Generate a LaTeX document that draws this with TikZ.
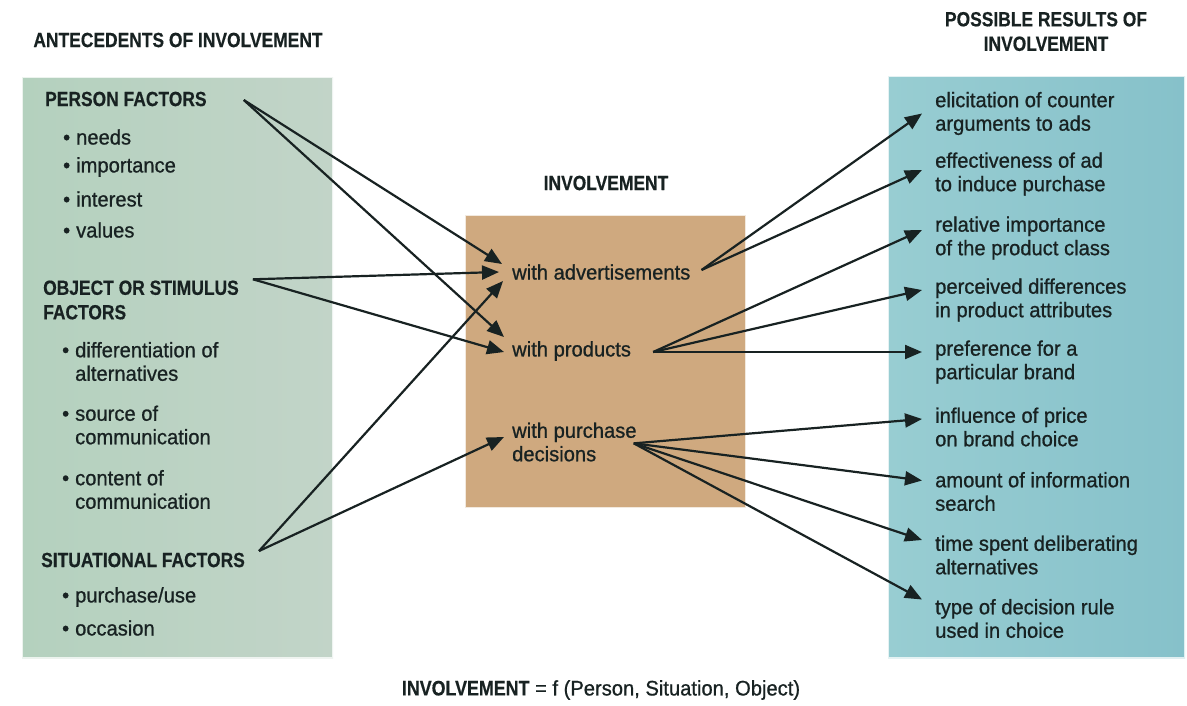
\documentclass[tikz,border=0pt]{standalone}
\usepackage{fontspec}
\usepackage{graphicx}
\setmainfont{Liberation Sans}[FakeStretch=0.96, FakeBold=0.8]
\newfontfamily\headfont{Liberation Sans}[FakeStretch=0.85, FakeBold=0.4]
\usetikzlibrary{arrows.meta,calc,backgrounds}

\definecolor{ink}{HTML}{182222}
\definecolor{sageL}{HTML}{B4D1BE}
\definecolor{sageR}{HTML}{C2D4C8}
\definecolor{tanbox}{HTML}{CFA97F}
\definecolor{tealL}{HTML}{98CDD2}
\definecolor{tealR}{HTML}{86C1CA}
\definecolor{glowG}{HTML}{B9D8C6}
\definecolor{glowT}{HTML}{B8D9D3}
\definecolor{glowB}{HTML}{B4C6C8}

\newcommand{\itm}{\makebox[0pt][r]{\textbullet\hspace{6pt}}}

\tikzset{
  body/.style={font=\fontsize{21}{23.5}\selectfont, text=ink, inner sep=0pt, align=left, anchor=west},
  head/.style={font=\headfont\bfseries\fontsize{20.5}{24.5}\selectfont, text=ink, inner sep=0pt, align=left},
  panel/.style={minimum width=#1, inner sep=0pt, draw=white, draw opacity=0.75, line width=1.4pt},
  link/.style={draw=ink, line width=2.2pt, -{Triangle[length=17pt,width=14pt]}},
}

\begin{document}
\begin{tikzpicture}[x=1pt,y=-1pt]
\useasboundingbox[fill=white] (0,0) rectangle (1187,705);

% panels
\node[panel=311pt, minimum height=581pt, left color=sageL, right color=sageR] (lbox) at (177.5,367.5) {};
\node[panel=281pt, minimum height=293pt, fill=tanbox] (cbox) at (605.5,361.5) {};
\node[panel=297pt, minimum height=582pt, left color=tealL, right color=tealR] (rbox) at (1036.5,367) {};

% soft glow around the panels
\begin{scope}[on background layer]
  \foreach \g in {1,...,10} {
    \fill[glowG, opacity=0.05] ($(lbox.south west)+(-1.6*\g,1.9*\g)$) rectangle ($(lbox.north east)+(1.6*\g,-1.6*\g)$);
    \fill[glowT, opacity=0.05] ($(cbox.south west)+(-1.6*\g,1.9*\g)$) rectangle ($(cbox.north east)+(1.6*\g,-1.6*\g)$);
    \fill[glowB, opacity=0.05] ($(rbox.south west)+(-1.6*\g,1.9*\g)$) rectangle ($(rbox.north east)+(1.6*\g,-1.6*\g)$);
  }
\end{scope}

% headings
\node[head, align=center] (antec) at (178,40) {ANTECEDENTS OF INVOLVEMENT};
\node[head, align=center] (invh) at (606,183) {INVOLVEMENT};
\node[head, align=center] (resh) at (1046,31.5) {POSSIBLE RESULTS OF\\INVOLVEMENT};

% antecedents
\node[head, anchor=west] (pf) at (45,99) {PERSON FACTORS};
\node[body] (p1) at (76,137) {\itm needs};
\node[body] (p2) at (76,167) {\itm importance};
\node[body] (p3) at (76,199) {\itm interest};
\node[body] (p4) at (76,230) {\itm values};
\node[head, anchor=west] (of) at (43,300) {OBJECT OR STIMULUS\\FACTORS};
\node[body] (o1) at (75,361.5) {\itm differentiation of\\alternatives};
\node[body] (o2) at (75,425) {\itm source of\\communication};
\node[body] (o3) at (75,489.5) {\itm content of\\communication};
\node[head, anchor=west] (sf) at (41,560) {SITUATIONAL FACTORS};
\node[body] (s1) at (75,597) {\itm purchase/use};
\node[body] (s2) at (75,628) {\itm occasion};

% forms of involvement
\node[body] (adv) at (512,272) {with advertisements};
\node[body] (prod) at (512,351) {with products};
\node[body] (purch) at (512,442) {with purchase\\decisions};

% results
\node[body] (r1) at (935,113.5) {elicitation of counter\\arguments to ads};
\node[body] (r2) at (935,174) {effectiveness of ad\\to induce purchase};
\node[body] (r3) at (935,238) {relative importance\\of the product class};
\node[body] (r4) at (935,300) {perceived differences\\in product attributes};
\node[body] (r5) at (935,362) {preference for a\\particular brand};
\node[body] (r6) at (935,427) {influence of price\\on brand choice};
\node[body] (r7) at (935,491.5) {amount of information\\search};
\node[body] (r8) at (935,555) {time spent deliberating\\alternatives};
\node[body] (r9) at (935,618.5) {type of decision rule\\used in choice};

% formula
\node[body, anchor=center] (formula) at (601,690) {{\headfont\bfseries INVOLVEMENT} = f (Person, Situation, Object)};

% connector end points
\coordinate (pfo) at ($(pf.east)+(37,1)$);
\coordinate (ofo) at ($(of.north east)+(14,-1)$);
\coordinate (sfo) at ($(sf.east)+(14,-9)$);
\coordinate (ad1) at ($(adv.west)+(-10,-8)$);
\coordinate (ad2) at ($(adv.west)+(-13,0)$);
\coordinate (ad3) at ($(adv.west)+(-9,9)$);
\coordinate (pr1) at ($(prod.west)+(-8,-14)$);
\coordinate (pr2) at ($(prod.west)+(-8,1)$);
\coordinate (pu1) at ($(purch.west)+(-8,-5)$);
\coordinate (advo) at ($(adv.east)+(11,-2)$);
\coordinate (prodo) at ($(prod.east)+(22,1)$);
\coordinate (purcho) at ($(purch.north east)+(-3,21)$);
\coordinate (t1) at ($(r1.west)+(-13,0)$);
\coordinate (t2) at ($(r2.west)+(-13,-4)$);
\coordinate (t3) at ($(r3.west)+(-13,-8)$);
\coordinate (t4) at ($(r4.west)+(-13,-10)$);
\coordinate (t5) at ($(r5.west)+(-13,-10)$);
\coordinate (t6) at ($(r6.west)+(-13,-8)$);
\coordinate (t7) at ($(r7.west)+(-13,-11)$);
\coordinate (t8) at ($(r8.west)+(-13,-15)$);
\coordinate (t9) at ($(r9.west)+(-13,-19)$);

% antecedents -> involvement
\draw[link] (pfo) -- (ad1);
\draw[link] (pfo) -- (pr1);
\draw[link] (ofo) -- (ad2);
\draw[link] (ofo) -- (pr2);
\draw[link] (sfo) -- (ad3);
\draw[link] (sfo) -- (pu1);

% involvement -> results
\draw[link] (advo) -- (t1);
\draw[link] (advo) -- (t2);
\draw[link] (prodo) -- (t3);
\draw[link] (prodo) -- (t4);
\draw[link] (prodo) -- (t5);
\draw[link] (purcho) -- (t6);
\draw[link] (purcho) -- (t7);
\draw[link] (purcho) -- (t8);
\draw[link] (purcho) -- (t9);
\end{tikzpicture}
\end{document}
